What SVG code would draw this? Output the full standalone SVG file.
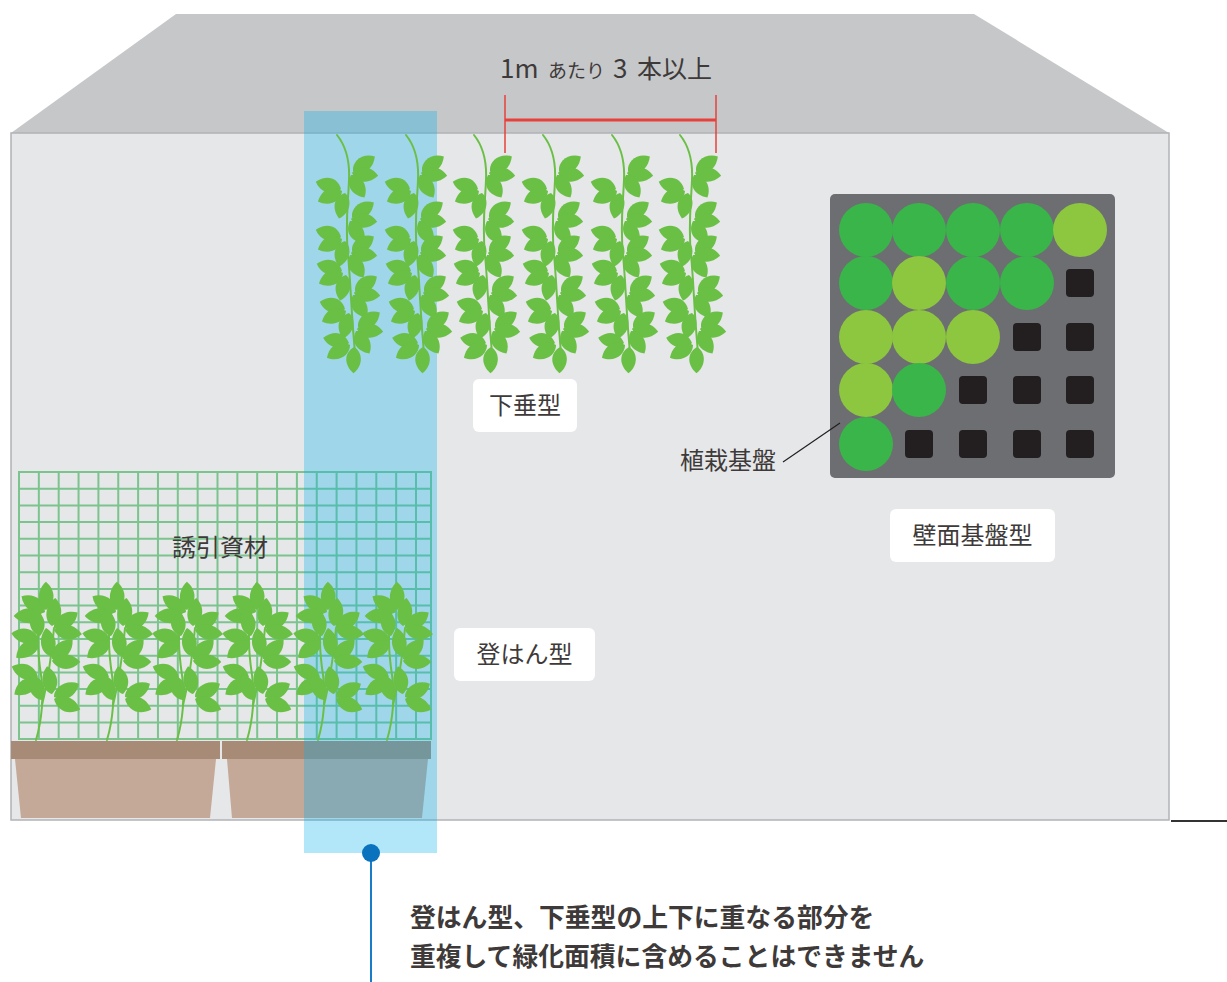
<svg xmlns="http://www.w3.org/2000/svg" width="1227" height="982" viewBox="0 0 1227 982">
<style>
.leaf{fill:#6abf45}
.stem{fill:none;stroke:#6abf45;stroke-width:2;stroke-linecap:round}
.lbl{font-family:"Noto Sans CJK JP","Noto Sans",sans-serif;fill:#3e3a39}
.box{fill:#ffffff}
.g1{fill:#39b54a}
.g2{fill:#8dc63f}
.sq{fill:#231f20}
.grid{fill:none;stroke:#7cc48e;stroke-width:2}
.rim{fill:#a88b76}
.pot{fill:#c4a898}
.red{stroke:#e8413c;fill:none}
</style>
<defs>
<path id="lf" class="leaf" d="M0,0 C3,-9 16,-13 26,-4 C19,7 8,9 0,0Z"/>
<path id="lf2" class="leaf" d="M0,0 C3,-9 17,-13 28,-4 C21,7 9,9 0,0Z"/>
<g id="hv">
<path class="stem" d="M0,0 C8,10 13,25 12,45 C11,70 8,90 11,120 C14,150 14,180 19,228"/>
<use href="#lf" transform="translate(16,36) rotate(-25)"/>
<use href="#lf" transform="translate(15,38) rotate(15)"/>
<use href="#lf" transform="translate(14,40) rotate(68)"/>
<use href="#lf" transform="translate(4,54) rotate(205)"/>
<use href="#lf" transform="translate(5,56) rotate(165)"/>
<use href="#lf" transform="translate(8,58) rotate(112)"/>
<use href="#lf" transform="translate(15,82) rotate(-25)"/>
<use href="#lf" transform="translate(14,84) rotate(15)"/>
<use href="#lf" transform="translate(13,86) rotate(68)"/>
<use href="#lf" transform="translate(4,102) rotate(205)"/>
<use href="#lf" transform="translate(5,104) rotate(165)"/>
<use href="#lf" transform="translate(8,106) rotate(112)"/>
<use href="#lf" transform="translate(15,116) rotate(-25)"/>
<use href="#lf" transform="translate(14,118) rotate(15)"/>
<use href="#lf" transform="translate(13,120) rotate(68)"/>
<use href="#lf" transform="translate(5,136) rotate(205)"/>
<use href="#lf" transform="translate(6,138) rotate(165)"/>
<use href="#lf" transform="translate(9,140) rotate(112)"/>
<use href="#lf" transform="translate(18,156) rotate(-25)"/>
<use href="#lf" transform="translate(17,158) rotate(15)"/>
<use href="#lf" transform="translate(16,160) rotate(68)"/>
<use href="#lf" transform="translate(8,174) rotate(205)"/>
<use href="#lf" transform="translate(9,176) rotate(165)"/>
<use href="#lf" transform="translate(12,178) rotate(112)"/>
<use href="#lf" transform="translate(21,192) rotate(-25)"/>
<use href="#lf" transform="translate(20,194) rotate(15)"/>
<use href="#lf" transform="translate(19,196) rotate(68)"/>
<use href="#lf" transform="translate(12,208) rotate(200)"/>
<use href="#lf" transform="translate(13,210) rotate(160)"/>
<use href="#lf" transform="translate(17,212) rotate(100)"/>
</g>
<g id="cp">
<path class="stem" d="M0,0 C6,-20 8,-45 5,-65 C2,-85 0,-105 4,-125 C6,-135 8,-145 9,-150"/>
<path class="stem" d="M6,-35 C11,-55 15,-80 18,-112"/>
<use href="#lf2" transform="translate(9,-128) rotate(222)"/>
<use href="#lf2" transform="translate(10,-130) rotate(-82)"/>
<use href="#lf2" transform="translate(6,-124) rotate(188)"/>
<use href="#lf2" transform="translate(18,-112) rotate(-25)"/>
<use href="#lf2" transform="translate(18,-110) rotate(17)"/>
<use href="#lf2" transform="translate(16,-114) rotate(-75)"/>
<use href="#lf2" transform="translate(3,-101) rotate(200)"/>
<use href="#lf2" transform="translate(3,-99) rotate(152)"/>
<use href="#lf2" transform="translate(4,-104) rotate(-95)"/>
<use href="#lf2" transform="translate(16,-81) rotate(-35)"/>
<use href="#lf2" transform="translate(16,-79) rotate(10)"/>
<use href="#lf2" transform="translate(14,-84) rotate(-90)"/>
<use href="#lf2" transform="translate(2,-63) rotate(210)"/>
<use href="#lf2" transform="translate(2,-61) rotate(155)"/>
<use href="#lf2" transform="translate(18,-43) rotate(-20)"/>
<use href="#lf2" transform="translate(18,-41) rotate(30)"/>
<use href="#lf2" transform="translate(16,-46) rotate(-92)"/>
<use href="#lf2" transform="translate(6,-40) rotate(-105)"/>
</g>
</defs>

<rect width="1227" height="982" fill="#ffffff"/>

<g id="roof">
<polygon points="176,14 974,14 1169,133 11,133" fill="#c6c7c9"/>
</g>
<g id="wall">
<rect x="11" y="133" width="1158" height="687" fill="#e6e7e9" stroke="#b1b3b6" stroke-width="1.5"/>
</g>

<g id="trellis">
<rect x="19" y="472" width="412" height="267" class="grid"/>
<path class="grid" d="M38.85,472V739M58.7,472V739M78.55,472V739M98.4,472V739M118.25,472V739M138.1,472V739M157.95,472V739M177.8,472V739M197.65,472V739M217.5,472V739M237.35,472V739M257.2,472V739M277.05,472V739M296.9,472V739M316.75,472V739M336.6,472V739M356.45,472V739M376.3,472V739M396.15,472V739M416,472V739M19,488.7H431M19,505.4H431M19,522.1H431M19,538.8H431M19,555.5H431M19,572.2H431M19,588.9H431M19,605.6H431M19,622.3H431M19,639H431M19,655.7H431M19,672.4H431M19,689.1H431M19,705.8H431M19,722.5H431"/>
</g>

<g id="pots">
<rect class="rim" x="11" y="741" width="209" height="18"/>
<rect class="rim" x="222" y="741" width="209" height="18"/>
<polygon class="pot" points="15,759 216,759 210,818 21,818"/>
<polygon class="pot" points="227,759 428,759 422,818 232,818"/>
</g>

<g id="overlap-band">
<rect x="304" y="111" width="133" height="742" fill="#00aeef" opacity="0.3"/>
</g>

<g id="hanging-plants">
<use href="#hv" transform="translate(337,135)"/>
<use href="#hv" transform="translate(406,135)"/>
<use href="#hv" transform="translate(474,135)"/>
<use href="#hv" transform="translate(543,135)"/>
<use href="#hv" transform="translate(612,135)"/>
<use href="#hv" transform="translate(680,135)"/>
</g>

<g id="climbing-plants">
<use href="#cp" transform="translate(36,740)"/>
<use href="#cp" transform="translate(107,740)"/>
<use href="#cp" transform="translate(177,740)"/>
<use href="#cp" transform="translate(247,740)"/>
<use href="#cp" transform="translate(318,740)"/>
<use href="#cp" transform="translate(387,740)"/>
</g>

<g id="panel">
<rect x="830" y="194" width="285" height="284" rx="5" fill="#6d6e71"/>
<circle class="g1" cx="866" cy="230" r="27"/>
<circle class="g1" cx="919" cy="230" r="27"/>
<circle class="g1" cx="973" cy="230" r="27"/>
<circle class="g1" cx="1027" cy="230" r="27"/>
<circle class="g2" cx="1080" cy="230" r="27"/>
<circle class="g1" cx="866" cy="283" r="27"/>
<circle class="g2" cx="919" cy="283" r="27"/>
<circle class="g1" cx="973" cy="283" r="27"/>
<circle class="g1" cx="1027" cy="283" r="27"/>
<rect class="sq" x="1066" y="269" width="28" height="28" rx="4"/>
<circle class="g2" cx="866" cy="337" r="27"/>
<circle class="g2" cx="919" cy="337" r="27"/>
<circle class="g2" cx="973" cy="337" r="27"/>
<rect class="sq" x="1013" y="323" width="28" height="28" rx="4"/>
<rect class="sq" x="1066" y="323" width="28" height="28" rx="4"/>
<circle class="g2" cx="866" cy="390" r="27"/>
<circle class="g1" cx="919" cy="390" r="27"/>
<rect class="sq" x="959" y="376" width="28" height="28" rx="4"/>
<rect class="sq" x="1013" y="376" width="28" height="28" rx="4"/>
<rect class="sq" x="1066" y="376" width="28" height="28" rx="4"/>
<circle class="g1" cx="866" cy="444" r="27"/>
<rect class="sq" x="905" y="430" width="28" height="28" rx="4"/>
<rect class="sq" x="959" y="430" width="28" height="28" rx="4"/>
<rect class="sq" x="1013" y="430" width="28" height="28" rx="4"/>
<rect class="sq" x="1066" y="430" width="28" height="28" rx="4"/>
</g>

<g id="connectors">
<path class="red" stroke-width="1.5" d="M505,95V153M716,95V153"/>
<path class="red" stroke-width="3" d="M505,120H716"/>
<path d="M783,462L840,423" stroke="#231f20" stroke-width="1.2" fill="none"/>
<path d="M1171,821H1227" stroke="#333333" stroke-width="2" fill="none"/>
<path d="M371,853V982" stroke="#1a7cc8" stroke-width="2" fill="none"/>
</g>

<g id="label-spacing">
<text class="lbl" y="78" fill="#444"><tspan x="500" font-size="26">1m</tspan><tspan x="548" font-size="19">あたり</tspan><tspan x="613" font-size="26">3</tspan><tspan x="637" font-size="25">本以上</tspan></text>
</g>
<g id="label-kasui">
<rect class="box" x="473" y="379" width="104" height="53" rx="6"/>
<text class="lbl" x="525" y="414" font-size="24" text-anchor="middle">下垂型</text>
</g>
<g id="label-hekimen">
<rect class="box" x="890" y="509" width="165" height="53" rx="6"/>
<text class="lbl" x="972.5" y="544" font-size="24" text-anchor="middle">壁面基盤型</text>
</g>
<g id="label-tohan">
<rect class="box" x="454" y="628" width="141" height="53" rx="6"/>
<text class="lbl" x="524.5" y="663" font-size="24" text-anchor="middle">登はん型</text>
</g>
<g id="label-shokusai">
<text class="lbl" x="680" y="469" font-size="24">植栽基盤</text>
</g>
<g id="label-yuin">
<text class="lbl" x="172" y="556" font-size="24">誘引資材</text>
</g>

<g id="note">
<circle cx="371" cy="853" r="9" fill="#0b72be"/>
<text class="lbl" x="410" y="927" font-size="25.8" font-weight="bold">登はん型、下垂型の上下に重なる部分を</text>
<text class="lbl" x="410" y="966" font-size="25.8" font-weight="bold">重複して緑化面積に含めることはできません</text>
</g>
</svg>
